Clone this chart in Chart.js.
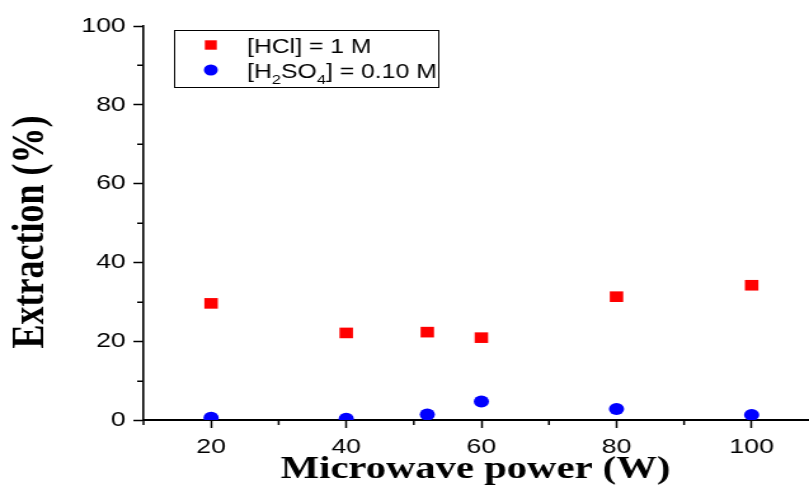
<!DOCTYPE html>
<html>
<head>
<meta charset="utf-8">
<script src="https://cdn.jsdelivr.net/npm/chart.js@4.4.0/dist/chart.umd.min.js"></script>
<style>
  html, body { margin: 0; padding: 0; background: #ffffff; overflow: hidden; }
  #wrap { width: 637px; height: 486px; transform: scaleX(1.27); transform-origin: 0 0; }
</style>
</head>
<body>
<div id="wrap"><canvas id="c" width="637" height="486"></canvas></div>
<script>
// ---- data ----
const power = [20, 40, 52, 60, 80, 100];
const hclExtraction = [29.6, 22.1, 22.3, 20.9, 31.3, 34.2];
const h2so4Extraction = [0.6, 0.3, 1.4, 4.7, 2.8, 1.3];
const xMajorTicks = [20, 40, 60, 80, 100];
const xMinorTicks = [10, 30, 50, 70, 90];
const yMajorTicks = [0, 20, 40, 60, 80, 100];
const yMinorTicks = [10, 30, 50, 70, 90];
const xTitle = 'Microwave power (W)';
const yTitle = 'Extraction (%)';
const legendHcl = [['[HCl] = 1 M', false]];
const legendH2so4 = [['[H', false], ['2', true], ['SO', false], ['4', true], ['] = 0.10 M', false]];

const sansFamily = '"Liberation Sans", Arial, sans-serif';
const serifFamily = '"Liberation Serif", "Times New Roman", serif';
const tickFont = { family: sansFamily, size: 21 };

const minorTicksPlugin = {
  id: 'minorTicks',
  afterDraw(chart) {
    const ctx = chart.ctx;
    const xs = chart.scales.x, ys = chart.scales.y;
    ctx.save();
    ctx.strokeStyle = '#000';
    ctx.lineWidth = 1.5;
    xMinorTicks.forEach(v => {
      const px = xs.getPixelForValue(v);
      ctx.beginPath();
      ctx.moveTo(px, xs.top);
      ctx.lineTo(px, xs.top + 5);
      ctx.stroke();
    });
    yMinorTicks.forEach(v => {
      const py = Math.round(ys.getPixelForValue(v)) + 0.25;
      ctx.beginPath();
      ctx.moveTo(ys.right, py);
      ctx.lineTo(ys.right - 5, py);
      ctx.stroke();
    });
    // y-axis title
    ctx.fillStyle = '#000';
    ctx.font = 'bold 36px ' + serifFamily;
    ctx.textAlign = 'center';
    ctx.textBaseline = 'middle';
    ctx.translate(25, (chart.chartArea.top + chart.chartArea.bottom) / 2 + 9);
    ctx.rotate(-Math.PI / 2);
    ctx.fillText(yTitle, 0, 0);
    ctx.restore();
  }
};

function drawRich(ctx, parts, x, y, size) {
  let cx = x;
  parts.forEach(([txt, sub]) => {
    if (sub) {
      ctx.font = Math.round(size * 0.68) + 'px ' + sansFamily;
      ctx.fillText(txt, cx, y + 6);
    } else {
      ctx.font = size + 'px ' + sansFamily;
      ctx.fillText(txt, cx, y);
    }
    cx += ctx.measureText(txt).width;
  });
}

const legendPlugin = {
  id: 'customLegend',
  afterDraw(chart) {
    const ctx = chart.ctx;
    ctx.save();
    ctx.strokeStyle = '#000';
    ctx.lineWidth = 1;
    ctx.strokeRect(137.5, 30.5, 208, 57);
    ctx.textBaseline = 'alphabetic';
    ctx.textAlign = 'left';
    const items = [legendHcl, legendH2so4];
    const rowsY = [45, 70];
    chart.data.datasets.forEach((ds, i) => {
      ctx.fillStyle = ds.backgroundColor;
      ctx.beginPath();
      if (ds.pointStyle === 'rect') {
        const s = 4.7;
        ctx.rect(166 - s, rowsY[i] - s, 2 * s, 2 * s);
      } else {
        ctx.arc(166, rowsY[i], 5.5, 0, Math.PI * 2);
      }
      ctx.fill();
      ctx.fillStyle = '#000';
      drawRich(ctx, items[i], 194.5, rowsY[i] + 8, 19.5);
    });
    ctx.restore();
  }
};

new Chart(document.getElementById('c'), {
  type: 'scatter',
  data: {
    datasets: [
      {
        label: '[HCl] = 1 M',
        data: power.map((p, i) => ({ x: p, y: hclExtraction[i] })),
        pointStyle: 'rect',
        pointRadius: 7.5,
        pointHoverRadius: 7.5,
        backgroundColor: '#ff0000',
        borderColor: '#ff0000',
        borderWidth: 0,
        showLine: false
      },
      {
        label: '[H2SO4] = 0.10 M',
        data: power.map((p, i) => ({ x: p, y: h2so4Extraction[i] })),
        pointStyle: 'circle',
        pointRadius: 6,
        pointHoverRadius: 6,
        backgroundColor: '#0000ff',
        borderColor: '#0000ff',
        borderWidth: 0,
        showLine: false
      }
    ]
  },
  options: {
    responsive: false,
    animation: false,
    devicePixelRatio: 1,
    layout: { autoPadding: false, padding: { top: 26, right: 1, left: 0, bottom: 0 } },
    plugins: {
      legend: { display: false },
      tooltip: { enabled: false }
    },
    scales: {
      x: {
        type: 'linear',
        min: 10,
        max: 108.3,
        afterBuildTicks: s => { s.ticks = xMajorTicks.map(v => ({ value: v })); },
        afterFit: s => { s.height = 66; },
        grid: { drawOnChartArea: false, drawTicks: true, tickLength: 8, tickColor: '#000', tickWidth: 1.5 },
        border: { display: true, color: '#000', width: 2 },
        ticks: { color: '#000', font: tickFont, padding: 7, maxRotation: 0 },
        title: {
          display: true,
          text: xTitle,
          color: '#000',
          font: { family: serifFamily, size: 32, weight: 'bold', lineHeight: 1 },
          padding: { top: 0, bottom: 0 }
        }
      },
      y: {
        type: 'linear',
        min: 0,
        max: 100,
        afterBuildTicks: s => { s.ticks = yMajorTicks.map(v => ({ value: v })); },
        afterFit: s => { s.width = 113; },
        grid: { drawOnChartArea: false, drawTicks: true, tickLength: 8, tickColor: '#000', tickWidth: 1.5 },
        border: { display: true, color: '#000', width: 1.6 },
        ticks: { color: '#000', font: tickFont, padding: 6 },
        title: { display: false, text: yTitle }
      }
    }
  },
  plugins: [minorTicksPlugin, legendPlugin]
});
</script>
</body>
</html>
